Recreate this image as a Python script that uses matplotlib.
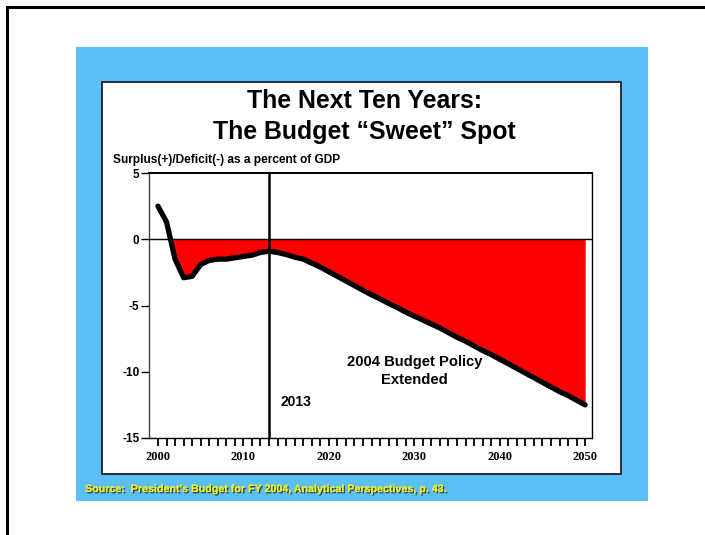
import numpy as np
import matplotlib
matplotlib.use('Agg')
import matplotlib.pyplot as plt
from matplotlib.patches import Rectangle
from matplotlib.lines import Line2D
import matplotlib.patheffects as pe

## ------------  Data  ---------------
years = list(range(2000, 2051))
balance = [2.5, 1.3, -1.5, -2.9, -2.8, -1.9, -1.6, -1.5, -1.5, -1.4,
           -1.3, -1.2, -1.0, -0.9, -1.0, -1.15, -1.35, -1.5, -1.8, -2.1,
           -2.45, -2.8, -3.15, -3.5, -3.85, -4.2, -4.5, -4.85, -5.15, -5.5,
           -5.8, -6.1, -6.4, -6.7, -7.05, -7.4, -7.7, -8.05, -8.4, -8.7,
           -9.05, -9.4, -9.75, -10.1, -10.45, -10.8, -11.15, -11.5, -11.8, -12.15,
           -12.5]
yticks = [5, 0, -5, -10, -15]
xticks = [2000, 2010, 2020, 2030, 2040, 2050]
marker_year = 2013

ylabel = 'Surplus(+)/Deficit(-) as a percent of GDP'
source = "Source:  President's Budget for FY 2004, Analytical Perspectives, p. 43."

## ------------  Layout helpers  ---------------
W, H = 705, 535
def fx(px): return px / W
def fy(py): return 1 - py / H

SANS = 'Liberation Sans'
SERIF = 'Liberation Serif'

fig = plt.figure(figsize=(W / 100, H / 100), dpi=100)
fig.patch.set_facecolor('white')

# page border (top and left)
fig.add_artist(Line2D([fx(7), 1], [fy(7), fy(7)], color='black', lw=2.2, zorder=-3))
fig.add_artist(Line2D([fx(7), fx(7)], [fy(7), 0], color='black', lw=2.2, zorder=-3))

# blue slide panel
fig.add_artist(Rectangle((fx(76), fy(501)), fx(648) - fx(76), fy(47) - fy(501),
                         transform=fig.transFigure, facecolor='#5bbff8',
                         edgecolor='none', zorder=-3))
# white chart box
fig.add_artist(Rectangle((fx(102), fy(474)), fx(621) - fx(102), fy(82) - fy(474),
                         transform=fig.transFigure, facecolor='white',
                         edgecolor='#1c1c2c', lw=1.3, zorder=-2))

fig.text(fx(365), fy(101), 'The Next Ten Years:', ha='center', va='center',
         fontsize=17.9, fontweight='bold', family=SANS)
fig.text(fx(364), fy(132), 'The Budget \u201cSweet\u201d Spot', ha='center', va='center',
         fontsize=17.9, fontweight='bold', family=SANS)
fig.text(fx(113), fy(160), ylabel, ha='left', va='center',
         fontsize=8.6, fontweight='bold', family=SANS)

fig.text(fx(85), fy(489), source, ha='left', va='center', fontsize=7.7,
         fontweight='bold', family=SANS, color='#eef020',
         path_effects=[pe.withSimplePatchShadow(offset=(1, -1), shadow_rgbFace='#303020', alpha=0.9),
                       pe.Normal()])

## ------------  Axes  ---------------
ax = fig.add_axes([fx(149), fy(438), fx(592) - fx(149), fy(173) - fy(438)])
ax.set_xlim(1998.95, 2050.8)
ax.set_ylim(-15, 5)
ax.patch.set_alpha(0)

y = np.array(balance)
ax.fill_between(years, y, 0, where=y < 0, interpolate=True, color='#ff0000', lw=0, zorder=2)
ax.axhline(0, color='black', lw=1.0, zorder=3)
ax.axvline(marker_year, color='black', lw=1.8, zorder=3)
ax.plot(years, y, color='black', lw=3.8, solid_capstyle='round',
        solid_joinstyle='round', zorder=4)

for s in ax.spines.values():
    s.set_linewidth(1.0)
ax.spines['left'].set_color('#444444')
ax.spines['top'].set_linewidth(1.4)

ax.set_yticks(yticks)
ax.set_yticklabels([str(v) for v in yticks], fontsize=8.5, fontweight='bold', family=SANS)
ax.set_xticks(xticks)
ax.set_xticklabels([str(v) for v in xticks], fontsize=9, fontweight='bold', family=SERIF)
ax.set_xticks(years, minor=True)
ax.tick_params(axis='x', which='both', direction='out', length=6, width=1.3, pad=3)
ax.tick_params(axis='y', direction='out', length=6, width=1.0, pad=1)

ax.text(2014.3, -12.25, '2013', ha='left', va='center', fontsize=10,
        fontweight='bold', family=SANS)
ax.text(2030.0, -9.95, '2004 Budget Policy\nExtended', ha='center', va='center',
        fontsize=10.6, fontweight='bold', family=SANS, linespacing=1.35)

fig.savefig('out.png', dpi=100)
